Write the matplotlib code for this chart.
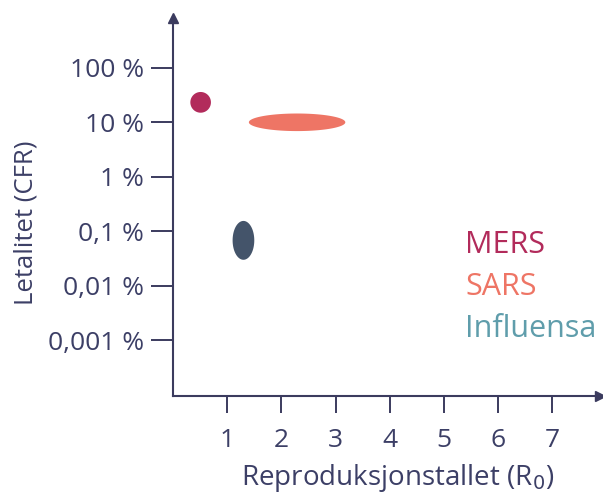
import numpy as np
import matplotlib.pyplot as plt

# disease regions: R0 range and case fatality range (percent)
diseases = ["MERS", "SARS", "Influensa"]
r0_low = [0.32, 1.40, 1.10]
r0_high = [0.70, 3.18, 1.50]
cfr_low = [15.0, 6.9, 0.030]
cfr_high = [36.0, 14.5, 0.155]
fill_colors = ["#B22B5B", "#EE7565", "#44546A"]
label_colors = ["#B22B5B", "#EE7565", "#5F9DAB"]

yticks = [100, 10, 1, 0.1, 0.01, 0.001]
ytick_labels = ["100 %", "10 %", "1 %", "0,1 %", "0,01 %", "0,001 %"]
xticks = [1, 2, 3, 4, 5, 6, 7]

axis_col = "#3B3B5E"
text_col = "#3C3F66"
plt.rcParams['font.family'] = ['Open Sans', 'DejaVu Sans']

fig = plt.figure(figsize=(6.03, 4.95), dpi=100)
ax = fig.add_axes([173/603, 99/495, 427/603, 378/495])
ax.set_yscale("log")
ax.set_xlim(0, 7.88)
ax.set_ylim(0.95e-4, 820)

# ellipses drawn in log space for y
t = np.linspace(0, 2*np.pi, 200)
for lo, hi, clo, chi, c in zip(r0_low, r0_high, cfr_low, cfr_high, fill_colors):
    cx, rx = (lo + hi) / 2, (hi - lo) / 2
    ly0, ly1 = np.log10(clo), np.log10(chi)
    cy, ry = (ly0 + ly1) / 2, (ly1 - ly0) / 2
    ax.fill(cx + rx*np.cos(t), 10**(cy + ry*np.sin(t)), color=c, lw=0)

for i, (name, c) in enumerate(zip(diseases, label_colors)):
    ax.text(0.685, 0.40 - i*0.111, name, transform=ax.transAxes, color=c,
            fontsize=22, va="center", ha="left")

for s in ["top", "right"]:
    ax.spines[s].set_visible(False)
for s in ["left", "bottom"]:
    ax.spines[s].set_color(axis_col)
    ax.spines[s].set_linewidth(1.5)
ax.plot(1, 0, ">", transform=ax.transAxes, clip_on=False, color=axis_col, ms=7)
ax.plot(0, 1, "^", transform=ax.transAxes, clip_on=False, color=axis_col, ms=7)

ax.set_yticks(yticks)
ax.set_yticklabels(ytick_labels)
ax.minorticks_off()
ax.set_xticks(xticks)
ax.tick_params(axis="y", direction="out", length=16, width=1.4, color=axis_col,
               labelcolor=text_col, labelsize=19, pad=5)
ax.tick_params(axis="x", direction="out", length=12, width=1.4, color=axis_col,
               labelcolor=text_col, labelsize=19, pad=11)

ax.set_xlabel("Reproduksjonstallet (R$_0$)", color=text_col, fontsize=20)
ax.set_ylabel("Letalitet (CFR)", color=text_col, fontsize=18.5)
ax.xaxis.set_label_coords(0.526, -0.174)
ax.yaxis.set_label_coords(-0.316, 0.458)

fig.savefig("out.png", dpi=100)
